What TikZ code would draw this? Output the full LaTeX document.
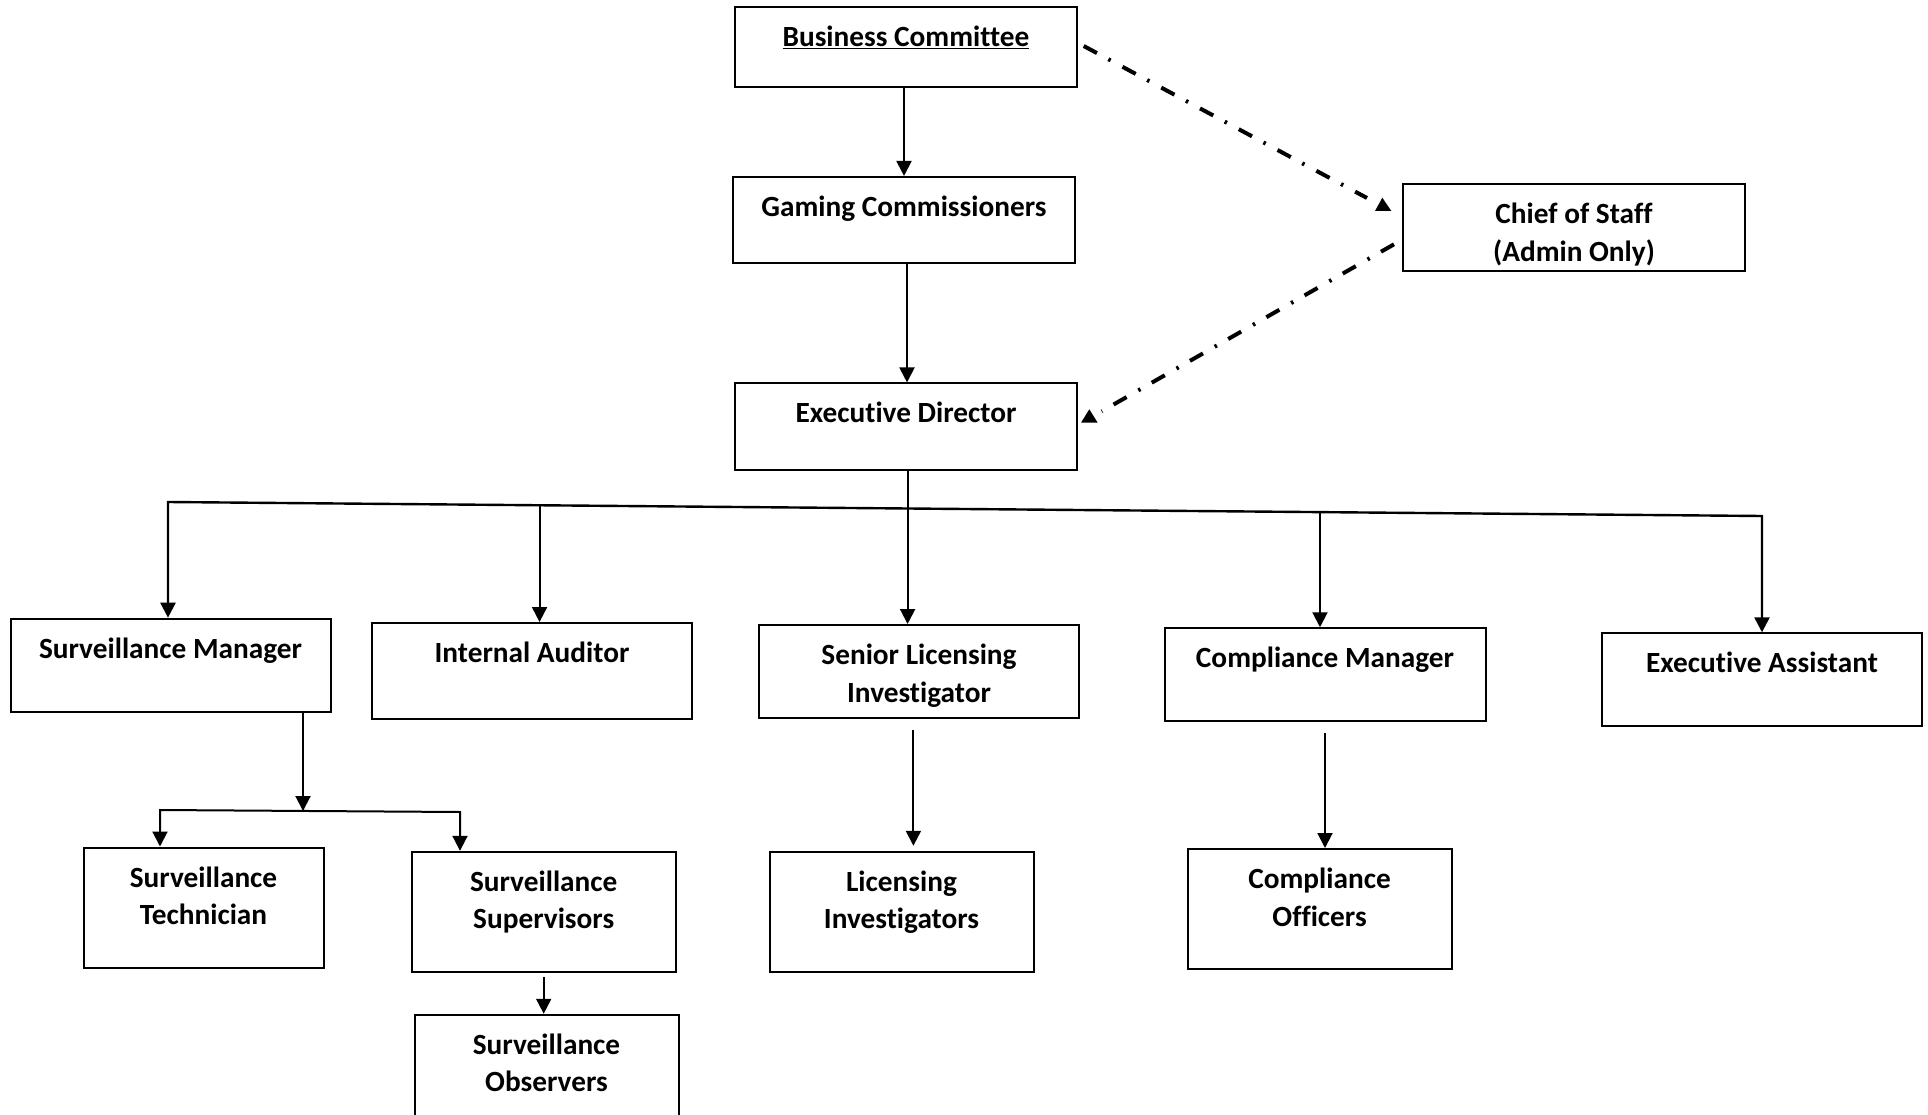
\documentclass[tikz,border=0pt]{standalone}
\usepackage{fontspec}
\setmainfont{Carlito}[Ligatures={NoCommon,NoRequired,NoContextual}]
\usetikzlibrary{arrows.meta,calc}
\newcommand\btxt[3]{\parbox[c][#2pt][t]{#1pt}{\centering\rule{0pt}{39.5pt}#3}}
\tikzset{
  orgbox/.style={draw=black, line width=2pt, inner sep=0pt, font=\fontsize{29.3}{37.5}\selectfont\bfseries},
  arr/.style={line width=2pt, -{Triangle[width=15pt,length=15pt]}},
  arrboth/.style={line width=2pt, {Triangle[width=15pt,length=15pt]}-{Triangle[width=15pt,length=15pt]}},
  dashdot/.style={line width=4pt, dash pattern=on 15pt off 13pt on 2.5pt off 13.5pt},
}
\begin{document}
\begin{tikzpicture}[x=1pt,y=-1pt]
\useasboundingbox (0,0) rectangle (1928,1115);
\clip (0,0) rectangle (1928,1115);
\fill[white] (0,0) rectangle (1928,1115);

% boxes
\node[orgbox] (BC)  at (906,47.2)    {\btxt{342}{80.5}{\underline{Business Committee}}};
\node[orgbox] (GC)  at (904,220.2)   {\btxt{342}{86.5}{Gaming Commissioners}};
\node[orgbox] (ED)  at (906,426.7)   {\btxt{342}{86.5}{Executive Director}};
\node[orgbox] (CoS) at (1574,228)    {\btxt{342}{87}{Chief of Staff\\(Admin Only)}};
\node[orgbox] (SM)  at (170.5,665.5) {\btxt{320}{93.6}{Surveillance Manager}};
\node[orgbox] (IA)  at (532,671)     {\btxt{320}{96}{Internal Auditor}};
\node[orgbox] (SLI) at (919,671.5)   {\btxt{320}{93}{Senior Licensing\\Investigator}};
\node[orgbox] (CM)  at (1325,674.6)  {\btxt{321}{92.7}{Compliance Manager}};
\node[orgbox] (EA)  at (1762,679.5)  {\btxt{320}{92.4}{Executive Assistant}};
\node[orgbox] (ST)  at (203.5,907.5) {\btxt{240}{120}{Surveillance\\Technician}};
\node[orgbox] (SS)  at (543.7,911.9) {\btxt{264}{120.2}{Surveillance\\Supervisors}};
\node[orgbox] (SO)  at (546.5,1074.9){\btxt{264}{120.3}{Surveillance\\Observers}};
\node[orgbox] (LI)  at (901.5,911.9) {\btxt{264}{120.2}{Licensing\\Investigators}};
\node[orgbox] (CO)  at (1319.6,909)  {\btxt{264}{120}{Compliance\\Officers}};

% top chain
\draw[arr] (BC.south -| GC.north) -- (GC.north);
\draw[arr] ([xshift=3pt]GC.south) -- ([xshift=1pt]ED.north);

% dash-dot links with Chief of Staff
\coordinate (d1s) at ($(BC.east)+(5.7,-1.2)$);
\coordinate (d1e) at ($(CoS.west)+(-35,-30)$);
\draw[dashdot] (d1s) -- (d1e);
\fill ($(CoS.west)+(-19.7,-30.3)$) -- ($(CoS.west)+(-27,-17)$) -- ($(CoS.west)+(-10.7,-17)$) -- cycle;
\coordinate (d2s) at ($(CoS.west)+(-8,16.3)$);
\coordinate (d2e) at ($(ED.east)+(23.7,-15.4)$);
\draw[dashdot] (d2s) -- (d2e);
\fill ($(ED.east)+(11.3,-17.4)$) -- ($(ED.east)+(3,-4)$) -- ($(ED.east)+(19.7,-4)$) -- cycle;

% branch from Executive Director
\coordinate (bl) at (168,502);
\coordinate (br) at (1762,516);
\draw[arr] ([xshift=1.6pt]ED.south) -- ([xshift=1.6pt]ED.south |- SLI.north);
\draw[arrboth,line width=2.4pt] (bl |- SM.north) -- (bl) -- (br) -- (br |- EA.north);
\draw[arr] ($(bl)!0.2331!(br)$) coordinate (ia) -- (ia |- IA.north);
\draw[arr] ($(bl)!0.7227!(br)$) coordinate (cm) -- (cm |- CM.north);

% surveillance sub-tree
\coordinate (sj) at (303,811);
\coordinate (sl) at (160,810);
\coordinate (sr) at (460,812);
\draw[arr] (SM.south -| sj) -- (sj);
\draw[arrboth] (sl |- ST.north) -- (sl) -- (sr) -- (sr |- SS.north);
\draw[arr] ([yshift=-4pt]SS.south) -- (SS.south |- SO.north);

% licensing and compliance
\draw[arr] ($(SLI.south)+(-5.6,11.4)$) coordinate (li) -- ($(li |- LI.north)+(0,-5)$);
\draw[arr] ($(CM.south)+(0,10.7)$) -- (CM.south |- CO.north);
\end{tikzpicture}
\end{document}
